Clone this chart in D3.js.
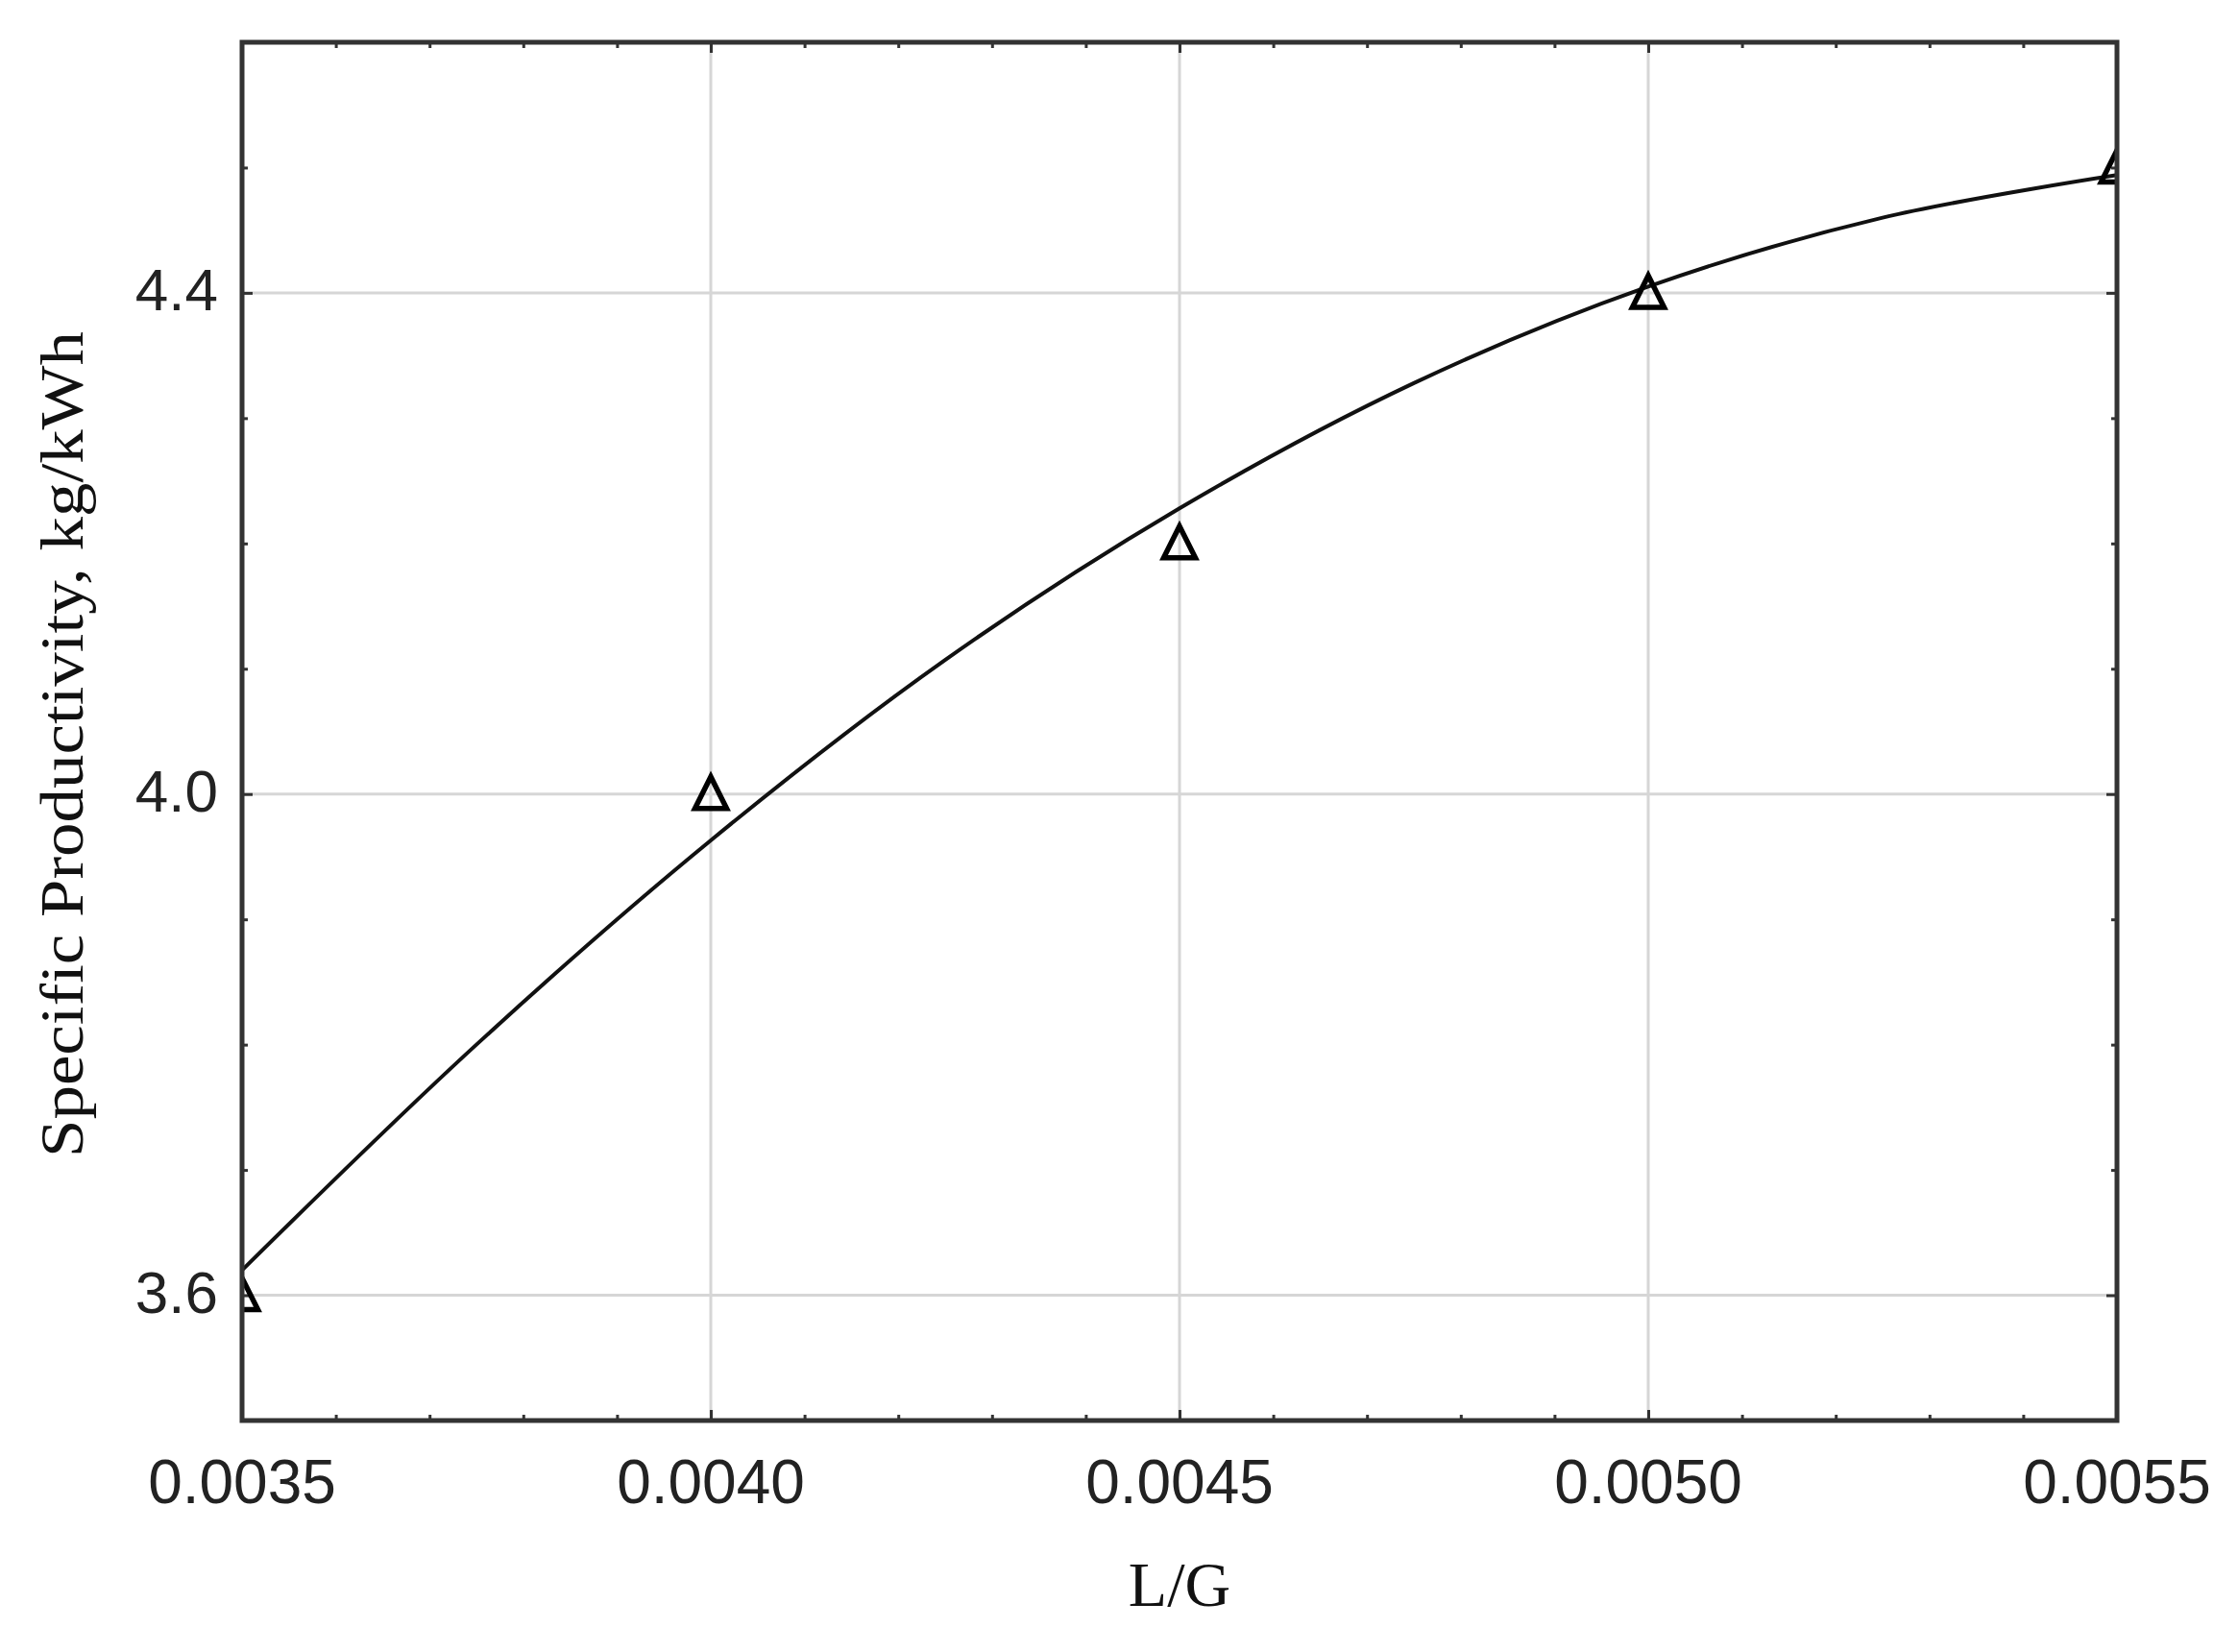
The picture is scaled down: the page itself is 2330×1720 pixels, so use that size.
<!DOCTYPE html>
<html>
<head>
<meta charset="utf-8">
<script src="https://cdn.jsdelivr.net/npm/d3@7"></script>
<style>
  html, body { margin: 0; padding: 0; background: #fff; }
  svg { display: block; }
</style>
</head>
<body>
<script>
// ---- data ----
const pointX = [0.0035, 0.0040, 0.0045, 0.0050, 0.0055];
const pointY = [3.6, 4.0, 4.2, 4.4, 4.5];
const curveX = [0.0035, 0.00375, 0.0040, 0.00425, 0.0045, 0.00475, 0.0050, 0.00525, 0.0055];
const curveY = [3.62, 3.80, 3.963, 4.107, 4.228, 4.328, 4.405, 4.460, 4.494];
const xMajorTicks = [0.0035, 0.0040, 0.0045, 0.0050, 0.0055];
const xTickLabels = ["0.0035", "0.0040", "0.0045", "0.0050", "0.0055"];
const yMajorTicks = [3.6, 4.0, 4.4];
const yTickLabels = ["3.6", "4.0", "4.4"];
const xMinorTicks = [0.0036,0.0037,0.0038,0.0039,0.0041,0.0042,0.0043,0.0044,0.0046,0.0047,0.0048,0.0049,0.0051,0.0052,0.0053,0.0054];
const yMinorTicks = [3.5,3.7,3.8,3.9,4.1,4.2,4.3,4.5,4.6];
const xTitle = "L/G";
const yTitle = "Specific Productivity, kg/kWh";

// ---- layout ----
const W = 2330, H = 1720;
const L = 252, R = 2204, T = 44, B = 1479;

const svg = d3.select("body").append("svg").attr("width", W).attr("height", H);

const x = d3.scaleLinear().domain([0.0035, 0.0055]).range([L, R]);
const y = d3.scaleLinear().domain([3.5, 4.6]).range([B, T]);

svg.append("defs").append("clipPath").attr("id", "plotclip")
  .append("rect").attr("x", L).attr("y", T).attr("width", R - L).attr("height", B - T);

const gridColor = "#d6d6d6";
const axisColor = "#333";

// gridlines
svg.append("g").selectAll("line").data(xMajorTicks.slice(1, -1)).join("line")
  .attr("x1", d => x(d)).attr("x2", d => x(d)).attr("y1", T).attr("y2", B)
  .attr("stroke", gridColor).attr("stroke-width", 3);
svg.append("g").selectAll("line").data(yMajorTicks).join("line")
  .attr("x1", L).attr("x2", R).attr("y1", d => y(d)).attr("y2", d => y(d))
  .attr("stroke", gridColor).attr("stroke-width", 3);

// inward ticks on all 4 sides via d3 axes
function addAxis(axisFn, scale, ticks, size, transform) {
  const g = svg.append("g").attr("transform", transform)
    .call(axisFn(scale).tickValues(ticks).tickSize(size).tickFormat(""));
  g.select(".domain").remove();
  g.selectAll(".tick line").attr("stroke", axisColor).attr("stroke-width", 3);
}
addAxis(d3.axisTop, x, xMajorTicks, 11, `translate(0,${B})`);
addAxis(d3.axisTop, x, xMinorTicks, 6, `translate(0,${B})`);
addAxis(d3.axisBottom, x, xMajorTicks, 11, `translate(0,${T})`);
addAxis(d3.axisBottom, x, xMinorTicks, 6, `translate(0,${T})`);
addAxis(d3.axisRight, y, yMajorTicks, 11, `translate(${L},0)`);
addAxis(d3.axisRight, y, yMinorTicks, 6, `translate(${L},0)`);
addAxis(d3.axisLeft, y, yMajorTicks, 11, `translate(${R},0)`);
addAxis(d3.axisLeft, y, yMinorTicks, 6, `translate(${R},0)`);

// curve
const curveData = curveX.map((v, i) => [v, curveY[i]]);
svg.append("path").datum(curveData)
  .attr("clip-path", "url(#plotclip)")
  .attr("fill", "none").attr("stroke", "#111").attr("stroke-width", 4)
  .attr("d", d3.line().x(d => x(d[0])).y(d => y(d[1])).curve(d3.curveCatmullRom.alpha(0.5)));

// triangle markers
const pts = pointX.map((v, i) => [v, pointY[i]]);
svg.append("g").attr("clip-path", "url(#plotclip)")
  .selectAll("path").data(pts).join("path")
  .attr("transform", d => `translate(${x(d[0])},${y(d[1])})`)
  .attr("d", "M0,-18 L-16.5,15 L16.5,15 Z")
  .attr("fill", "none").attr("stroke", "#000").attr("stroke-width", 5.5)
  .attr("stroke-linejoin", "miter");

// frame
svg.append("rect").attr("x", L).attr("y", T).attr("width", R - L).attr("height", B - T)
  .attr("fill", "none").attr("stroke", axisColor).attr("stroke-width", 5);

// tick labels
svg.append("g").selectAll("text").data(xMajorTicks).join("text")
  .attr("x", d => x(d)).attr("y", 1565)
  .attr("text-anchor", "middle")
  .attr("font-family", "'Liberation Sans', Arial, sans-serif")
  .attr("font-size", 64).attr("fill", "#222")
  .text((d, i) => xTickLabels[i]);

svg.append("g").selectAll("text").data(yMajorTicks).join("text")
  .attr("x", 227).attr("y", d => y(d) + 18)
  .attr("text-anchor", "end")
  .attr("font-family", "'Liberation Sans', Arial, sans-serif")
  .attr("font-size", 62).attr("fill", "#222")
  .text((d, i) => yTickLabels[i]);

// axis titles
svg.append("text").attr("x", (L + R) / 2).attr("y", 1672)
  .attr("text-anchor", "middle")
  .attr("font-family", "'Liberation Serif', 'Times New Roman', serif")
  .attr("font-size", 66).attr("fill", "#111")
  .text(xTitle);

svg.append("text")
  .attr("transform", `translate(86,775) rotate(-90)`)
  .attr("text-anchor", "middle")
  .attr("font-family", "'Liberation Serif', 'Times New Roman', serif")
  .attr("font-size", 64).attr("fill", "#111")
  .attr("textLength", 860).attr("lengthAdjust", "spacingAndGlyphs")
  .text(yTitle);
</script>
</body>
</html>
